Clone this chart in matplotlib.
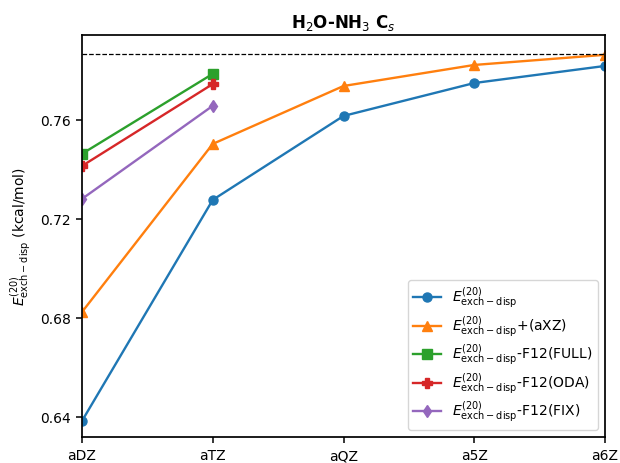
import matplotlib
matplotlib.use('Agg')
from matplotlib import pyplot as plt

basis = ['aDZ', 'aTZ', 'aQZ', 'a5Z', 'a6Z']

exch_disp = [0.6384, 0.7277, 0.7616, 0.7749, 0.7818]
exch_disp_axz = [0.6824, 0.7503, 0.7737, 0.7822, 0.7863]
f12_full = [0.7463, 0.7786]
f12_oda = [0.7414, 0.7745]
f12_fix = [0.7281, 0.7657]

cbs_limit = 0.7867

lbl = r'$E^{(20)}_{\rm exch-disp}$'

fig, ax = plt.subplots(figsize=(6.2, 4.64), dpi=100)
x = list(range(len(basis)))
kw = dict(linewidth=1.7, markersize=6.5)
ax.plot(x, exch_disp, marker='o', label=lbl, **kw)
ax.plot(x, exch_disp_axz, marker='^', label=lbl + '+(aXZ)', **kw)
ax.plot(x[:2], f12_full, marker='s', label=lbl + '-F12(FULL)', **kw)
ax.plot(x[:2], f12_oda, marker='P', label=lbl + '-F12(ODA)', **kw)
ax.plot(x[:2], f12_fix, marker='d', label=lbl + '-F12(FIX)', **kw)
ax.axhline(cbs_limit, color='k', linestyle='--', linewidth=0.9)

ax.set_xticks(x)
ax.set_xticklabels(basis)
ax.set_xlim(0, 4)
ax.set_ylim(0.6319, 0.7943)
ax.set_yticks([0.64, 0.68, 0.72, 0.76])
ax.set_ylabel(lbl + ' (kcal/mol)')
ax.set_title(r'H$_2$O-NH$_3$ C$_s$', fontweight='bold')
for s in ax.spines.values():
    s.set_linewidth(1.25)
ax.tick_params(length=4.5, width=1.1)
ax.legend(loc='lower right', labelspacing=0.25)
fig.subplots_adjust(left=82 / 620, right=605 / 620, top=1 - 36 / 464, bottom=1 - 438 / 464)
plt.savefig('out.png')
